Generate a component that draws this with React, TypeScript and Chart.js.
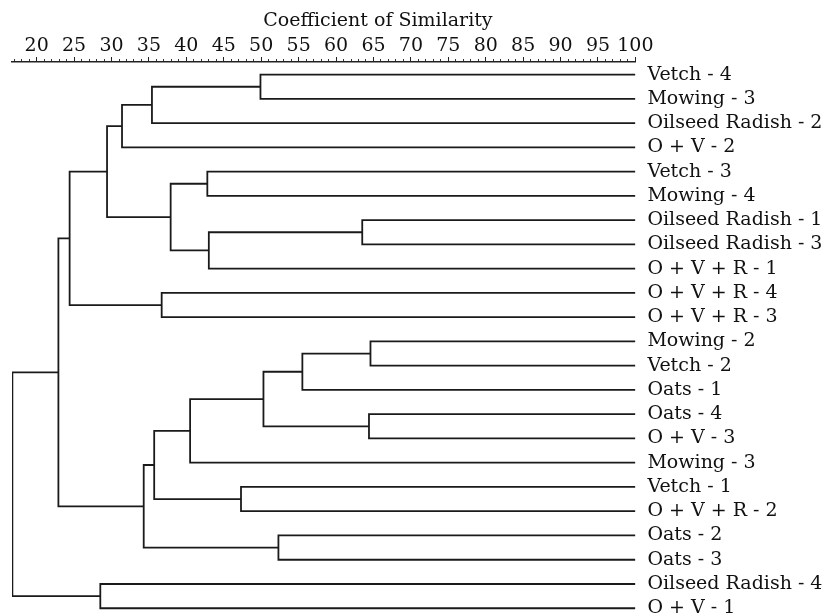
import { useEffect, useRef } from "react";
import { Chart, registerables } from "chart.js";

Chart.register(...registerables);

// Leaves, top to bottom
const leafLabels = [
  "Vetch - 4",
  "Mowing - 3",
  "Oilseed Radish - 2",
  "O + V - 2",
  "Vetch - 3",
  "Mowing - 4",
  "Oilseed Radish - 1",
  "Oilseed Radish - 3",
  "O + V + R - 1",
  "O + V + R - 4",
  "O + V + R - 3",
  "Mowing - 2",
  "Vetch - 2",
  "Oats - 1",
  "Oats - 4",
  "O + V - 3",
  "Mowing - 3",
  "Vetch - 1",
  "O + V + R - 2",
  "Oats - 2",
  "Oats - 3",
  "Oilseed Radish - 4",
  "O + V - 1",
];
const leafSimilarity = 100;

// Linkage: merge k creates node (leafLabels.length + k)
const mergeLeft = [0, 23, 24, 4, 6, 27, 26, 25, 9, 30, 11, 33, 14, 34, 36, 17, 37, 19, 39, 32, 21, 42];
const mergeRight = [1, 2, 3, 5, 7, 8, 28, 29, 10, 31, 12, 13, 15, 35, 16, 18, 38, 20, 40, 41, 22, 43];
const mergeHeight = [
  49.9, 35.4, 31.4, 42.8, 63.5, 43.0, 37.9, 29.4, 36.7, 24.4, 64.6, 55.5, 64.4, 50.3, 40.5, 47.3, 35.7,
  52.3, 34.3, 22.9, 28.5, 16.75,
];

const xTickValues = [20, 25, 30, 35, 40, 45, 50, 55, 60, 65, 70, 75, 80, 85, 90, 95, 100];
const xMin = 16.7;
const xMax = 100;
const axisTitle = "Coefficient of Similarity";

const FONT = "'DejaVu Serif', serif";
const LINE = "#1a1a1a";

export default function App() {
  const ref = useRef<HTMLCanvasElement>(null);

  useEffect(() => {
    const nodeX: number[] = leafLabels.map(() => leafSimilarity);
    const nodeY: number[] = leafLabels.map((_, i) => i);
    mergeLeft.forEach((l, k) => {
      const r = mergeRight[k];
      nodeX.push(mergeHeight[k]);
      nodeY.push((nodeY[l] + nodeY[r]) / 2);
    });

    const datasets = mergeLeft.map((l, k) => {
      const r = mergeRight[k];
      const h = mergeHeight[k];
      return {
        data: [
          { x: nodeX[l], y: nodeY[l] },
          { x: h, y: nodeY[l] },
          { x: h, y: nodeY[r] },
          { x: nodeX[r], y: nodeY[r] },
        ],
        showLine: true,
        borderColor: LINE,
        borderWidth: 1.8,
        pointRadius: 0,
        pointHoverRadius: 0,
        fill: false,
        tension: 0,
        xAxisID: "x",
        yAxisID: "y",
      };
    });

    const minorTicks: { value: number }[] = [];
    for (let v = Math.ceil(xMin); v <= xMax; v++) minorTicks.push({ value: v });

    const titlePlugin = {
      id: "simTitle",
      afterDraw(chart: any) {
        const ctx = chart.ctx;
        const sx = chart.scales.x;
        ctx.save();
        ctx.font = `19px ${FONT}`;
        ctx.fillStyle = "#111";
        ctx.textAlign = "center";
        ctx.textBaseline = "alphabetic";
        ctx.fillText(axisTitle, sx.getPixelForValue(65.6), 26);
        ctx.restore();
      },
    };

    const chart = new Chart(ref.current as HTMLCanvasElement, {
      type: "scatter",
      data: { datasets: datasets as any },
      options: {
        animation: false,
        responsive: false,
        devicePixelRatio: 1,
        layout: { padding: { left: 12, right: 0, top: 0, bottom: 0 } },
        plugins: { legend: { display: false }, tooltip: { enabled: false }, title: { display: false } },
        scales: {
          x: {
            type: "linear",
            position: "top",
            min: xMin,
            max: xMax,
            weight: 0,
            afterBuildTicks: (s: any) => {
              s.ticks = minorTicks.map((t) => ({ value: t.value }));
            },
            afterFit: (s: any) => {
              s.height = 0;
            },
            grid: { drawOnChartArea: false, drawTicks: true, tickLength: 3, color: "#333", lineWidth: 1 },
            border: { display: true, color: "#222", width: 1.6 },
            ticks: { display: false },
          },
          x2: {
            type: "linear",
            position: "top",
            min: xMin,
            max: xMax,
            weight: 1,
            afterBuildTicks: (s: any) => {
              s.ticks = xTickValues.map((v) => ({ value: v }));
            },
            afterFit: (s: any) => {
              s.height = 62;
            },
            grid: { drawOnChartArea: false, drawTicks: true, tickLength: 5, color: "#222", lineWidth: 1 },
            border: { display: false },
            ticks: {
              padding: 0,
              autoSkip: false,
              maxRotation: 0,
              minRotation: 0,
              color: "#111",
              font: { family: FONT, size: 19 },
              callback: (v: any) => String(v),
            },
          },
          y: {
            type: "linear",
            position: "right",
            min: -0.52,
            max: 22.32,
            reverse: true,
            afterBuildTicks: (s: any) => {
              s.ticks = leafLabels.map((_, i) => ({ value: i }));
            },
            afterFit: (s: any) => {
              s.width = 195.6;
              s.paddingTop = 0;
              s.paddingBottom = 0;
            },
            grid: { display: false, drawTicks: false },
            border: { display: false },
            ticks: {
              padding: 12,
              autoSkip: false,
              color: "#111",
              font: { family: FONT, size: 19 },
              callback: (v: any) => leafLabels[Math.round(Number(v))] ?? "",
            },
          },
        },
      } as any,
      plugins: [titlePlugin],
    });

    return () => chart.destroy();
  }, []);

  return (
    <div style={{ position: "fixed", left: 0, top: 0, width: 831, height: 616, background: "#fff" }}>
      <canvas ref={ref} width={831} height={616} style={{ display: "block", width: 831, height: 616 }} />
    </div>
  );
}
